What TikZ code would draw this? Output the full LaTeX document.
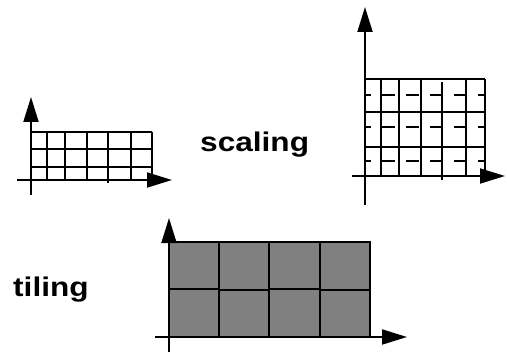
\documentclass[tikz,border=0pt]{standalone}
\usepackage{fontspec}
\setmainfont{Liberation Sans}
\usetikzlibrary{arrows.meta}
\begin{document}
\begin{tikzpicture}[x=1pt,y=-1pt,
  ax/.style={line width=2pt,-{Triangle[length=25pt,width=15pt]}},
  gridline/.style={line width=2pt},
  dashrow/.style={line width=2pt,dash pattern=on 13pt off 11pt,dash phase=7pt},
  tile/.style={fill=black!50,draw=black,line width=2pt},
  lbl/.style={anchor=base west,inner sep=0pt}]
\useasboundingbox (0,0) rectangle (507,353);

% --- original grid (left) ---
\foreach \x in {47,65,87,131,152} \draw[gridline] (\x,132) -- (\x,180);
\draw[gridline] (108,131) -- (108,183);
\foreach \y in {132,149,167} \draw[gridline] (31,\y) -- (152,\y);
\draw[ax] (31,195) -- (31,97);
\draw[ax] (17,180) -- (172,180);

% --- vertically scaled grid (right) ---
\foreach \x in {381,399,421,466,485} \draw[gridline] (\x,79) -- (\x,176);
\draw[gridline] (442,82) -- (442,180);
\foreach \y in {79,112,147} \draw[gridline] (365,\y) -- (485,\y);
\foreach \y in {95,127,161} \draw[dashrow] (365,\y) -- (485,\y);
\draw[ax] (365,205) -- (365,7);
\draw[ax] (352,176) -- (505,176);

% --- tiled grid (bottom) ---
\draw[tile] (169,242) rectangle (219,289);
\draw[tile] (169,289) rectangle (219,337);
\draw[tile] (219,242) rectangle (269,290.3);
\draw[tile] (219,290.3) rectangle (269,337);
\draw[tile] (269,242) rectangle (320,289);
\draw[tile] (269,289) rectangle (320,337);
\draw[tile] (320,242) rectangle (370,290.3);
\draw[tile] (320,290.3) rectangle (370,337);
\draw[ax] (169,352) -- (169,218);
\draw[ax] (155,337) -- (407,337);

% --- labels ---
\node[lbl] (scaling) at (200,152) {\scalebox{1.17}[1]{\fontsize{27}{27}\selectfont\bfseries scaling}};
\node[lbl] (tiling) at (13,296) {\scalebox{1.17}[1]{\fontsize{27}{27}\selectfont\bfseries tiling}};
\end{tikzpicture}
\end{document}
